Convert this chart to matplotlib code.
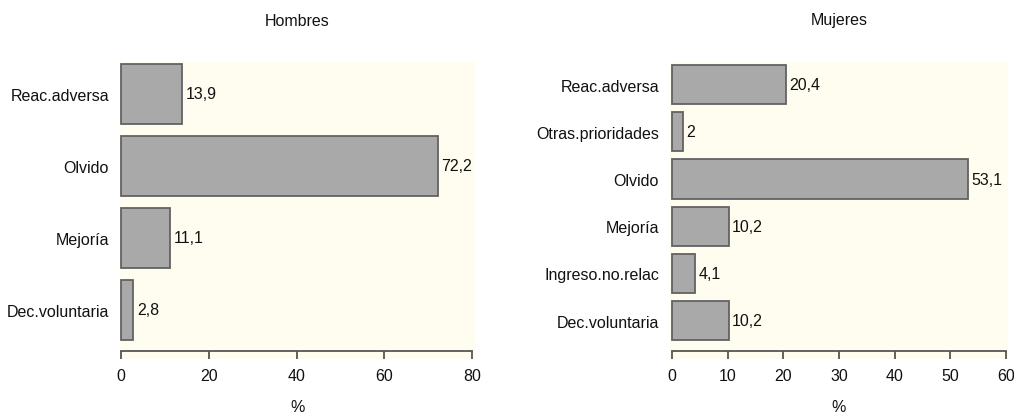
import matplotlib
matplotlib.use("Agg")
import matplotlib.pyplot as plt

plt.rcParams['font.family'] = ['Liberation Sans', 'DejaVu Sans']

# Hombres
h_labels = ['Dec.voluntaria', 'Mejoría', 'Olvido', 'Reac.adversa']
h_values = [2.8, 11.1, 72.2, 13.9]
h_text = ['2,8', '11,1', '72,2', '13,9']
h_ticks = [0, 20, 40, 60, 80]

# Mujeres
m_labels = ['Dec.voluntaria', 'Ingreso.no.relac', 'Mejoría', 'Olvido',
            'Otras.prioridades', 'Reac.adversa']
m_values = [10.2, 4.1, 10.2, 53.1, 2.0, 20.4]
m_text = ['10,2', '4,1', '10,2', '53,1', '2', '20,4']
m_ticks = [0, 10, 20, 30, 40, 50, 60]

W, H = 1014, 414
fig = plt.figure(figsize=(W / 100, H / 100), dpi=100)

bg = '#fefdf0'
barcol = '#a9a9a9'
edgecol = '#626262'
fs = 11.5


def panel(rect, labels, values, texts, ticks, xlim, ylim, axis_y, title):
    x0, y0, x1, y1 = rect
    ax = fig.add_axes([x0 / W, 1 - y1 / H, (x1 - x0) / W, (y1 - y0) / H])
    ax.set_facecolor(bg)
    ypos = list(range(len(values)))
    ax.barh(ypos, values, height=0.83, color=barcol, edgecolor=edgecol,
            linewidth=1.3)
    for y, v, t in zip(ypos, values, texts):
        ax.text(v + (xlim[1] - xlim[0]) * 0.01, y, t, ha='left', va='center',
                fontsize=fs, color='#111111')
    ax.set_xlim(*xlim)
    ax.set_ylim(*ylim)
    ax.set_yticks(ypos)
    ax.set_yticklabels(labels, fontsize=fs, color='#111111')
    ax.tick_params(axis='y', length=0, pad=8)
    for s in ['top', 'right', 'left']:
        ax.spines[s].set_visible(False)
    ax.spines['bottom'].set_position(('data', axis_y))
    ax.spines['bottom'].set_bounds(ticks[0], ticks[-1])
    ax.spines['bottom'].set_color('#555555')
    ax.spines['bottom'].set_linewidth(1.3)
    ax.set_xticks(ticks)
    ax.set_xticklabels([str(t) for t in ticks], fontsize=fs, color='#111111')
    ax.tick_params(axis='x', length=6, width=1.3, color='#555555', pad=6,
                   direction='out')
    cx = (x0 + x1) / 2 / W
    fig.text(cx, 1 - 21 / H, title, ha='center', va='center', fontsize=fs,
             color='#111111')
    fig.text(cx, 1 - 408 / H, '%', ha='center', va='center', fontsize=fs,
             color='#111111')
    return ax


panel((120, 63, 475, 360), h_labels, h_values, h_text, h_ticks,
      (-0.23, 80.68), (-0.68, 3.44), -0.569, 'Hombres')
panel((670, 63, 1008, 360), m_labels, m_values, m_text, m_ticks,
      (-0.36, 60.36), (-0.815, 5.48), -0.646, 'Mujeres')

fig.savefig('out.png', dpi=100, facecolor='white')
